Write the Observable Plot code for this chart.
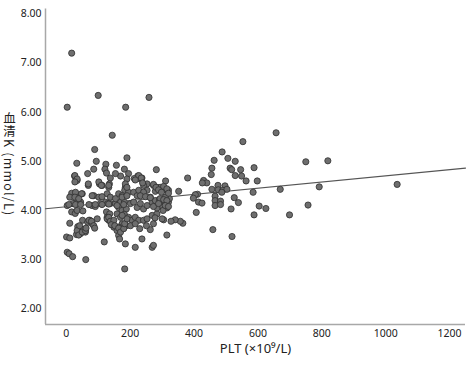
<!DOCTYPE html>
<html>
<head>
<meta charset="utf-8">
<script src="https://cdn.jsdelivr.net/npm/d3@7"></script>
<script src="https://cdn.jsdelivr.net/npm/@observablehq/plot@0.6"></script>
<style>
  html, body { margin: 0; padding: 0; background: #fff; }
  #wrap { position: relative; width: 475px; height: 366px; font-family: "Noto Sans", "Noto Sans CJK SC", sans-serif; }
  #ylab { position: absolute; left: 1px; top: 164px; transform: translateY(-50%); writing-mode: vertical-rl; font-size: 12.5px; letter-spacing: 1.2px; color: #222; font-family: "Noto Sans CJK SC", "Noto Sans", sans-serif; white-space: nowrap; line-height: 16px; }
</style>
</head>
<body>
<div id="wrap"><div id="ylab">血清K (mmol/L)</div></div>
<script>
// PLT (×10^9/L)
const plt = [
17,3,100,186,259,144,89,94,33,124,157,190,86,121,126,182,195,282,26,32,138,170,224,213,237,
67,69,34,17,11,50,30,32,3,21,45,17,28,34,52,11,51,36,50,60,45,32,67,74,81,1,11,3,9,20,61,
86,81,91,107,104,112,97,119,135,133,128,123,130,138,126,136,128,133,144,149,159,164,167,185,183,216,237,263,269,273,
154,190,232,185,183,164,175,195,211,222,237,253,273,284,253,242,
154,170,182,164,175,188,201,211,222,232,242,253,269,279,
159,170,182,195,206,216,227,242,253,269,284,175,188,201,216,230,251,164,273,
657,553,488,463,506,529,456,454,513,518,546,588,529,549,563,598,750,819,430,440,426,475,497,456,476,490,503,487,585,670,792,
411,466,466,466,483,483,526,539,414,425,516,604,625,588,699,757,407,459,519,404,1036,
311,380,352,398,315,365,357,341,328,305,278,315,320,323,300,303,284,292,305,310,320,305,279,294,263,273,300,
34,39,50,60,62,71,79,86,89,42,128,133,138,149,141,152,164,170,180,183,190,175,
27,34,27,69,102,110,133,185,190,29,48,27,39,81,102,112,138,154,175,190,8,29,45,71,91,112,133,159,180,
227,235,216,239,273,281,289,305,315,298,320,227,242,232,248,263,294,305,315,289,310,320
];
// 血清K (mmol/L)
const potassium = [
7.20,6.10,6.34,6.10,6.30,5.53,5.24,5.00,4.96,4.94,4.92,5.07,4.84,4.84,4.76,4.84,4.75,4.83,4.70,4.63,4.66,4.70,4.70,4.65,4.66,
4.75,4.51,4.61,4.35,4.27,4.34,4.33,4.22,4.10,4.14,4.17,3.97,3.94,4.00,3.99,3.74,3.80,3.67,3.61,3.56,3.53,3.51,3.76,3.80,3.73,3.46,3.44,3.15,3.12,3.06,3.00,
4.30,4.10,4.08,4.14,4.54,4.51,3.83,3.36,4.54,4.47,4.34,4.17,4.14,4.14,3.97,3.93,3.86,3.80,3.73,3.66,3.59,3.49,3.42,3.32,2.81,3.25,3.42,3.61,3.25,3.29,
4.75,4.64,4.64,4.47,4.41,4.34,4.30,4.37,4.37,4.30,4.34,4.41,4.51,4.47,4.54,4.51,
4.14,4.17,4.17,4.06,4.00,4.03,4.14,4.17,4.06,4.14,4.03,4.10,4.17,4.20,
3.93,3.86,3.92,3.86,3.80,3.86,3.80,3.80,3.83,3.90,3.93,3.73,3.69,3.69,3.73,3.63,3.69,3.66,3.73,
5.58,5.40,5.19,5.02,5.06,5.00,4.86,4.73,4.86,4.83,4.83,4.87,4.71,4.70,4.60,4.60,4.99,5.01,4.61,4.56,4.56,4.51,4.50,4.43,4.42,4.41,4.43,4.37,4.37,4.43,4.48,
4.33,4.29,4.20,4.10,4.19,4.12,4.26,4.16,4.17,4.15,4.03,4.09,4.04,3.91,3.91,4.11,3.96,3.61,3.47,4.32,4.53,
4.60,4.66,4.39,4.25,3.50,3.74,3.78,3.81,3.78,3.81,3.85,4.05,4.17,4.24,4.08,4.00,4.05,4.22,4.20,4.27,4.41,4.42,4.39,4.47,4.27,4.08,3.83,
3.59,3.50,3.56,3.59,3.64,3.80,3.78,3.69,3.64,3.69,3.83,3.86,3.78,3.80,3.71,3.69,3.64,3.56,3.63,3.73,3.83,3.90,
4.71,4.64,4.58,4.54,4.58,4.51,4.51,4.54,4.47,4.37,4.34,4.27,4.24,4.30,4.27,4.28,4.27,4.24,4.27,4.30,4.12,4.12,4.12,4.12,4.12,4.12,4.13,4.10,4.12,
4.71,4.66,4.62,4.56,4.53,4.47,4.42,4.49,4.44,4.37,4.35,4.41,4.37,4.30,4.28,4.26,4.24,4.22,4.20,4.14,4.10,4.08
];
const xTicks = [0, 200, 400, 600, 800, 1000, 1200];
const yTicks = [2, 3, 4, 5, 6, 7, 8];
const xDomain = [-65, 1250];
const yDomain = [1.68, 8.1];

const n = Math.min(plt.length, potassium.length);
const pts = d3.range(n).map(i => ({x: plt[i], y: potassium[i]}));

// ordinary least squares fit, drawn across the full x axis as in the reference
const mx = d3.mean(pts, d => d.x), my = d3.mean(pts, d => d.y);
const slope = d3.sum(pts, d => (d.x - mx) * (d.y - my)) / d3.sum(pts, d => (d.x - mx) ** 2);
const intercept = my - slope * mx;
const fit = xDomain.map(x => ({x, y: intercept + slope * x}));

const chart = Plot.plot({
  width: 475,
  height: 366,
  marginLeft: 45,
  marginRight: 10,
  marginTop: 8.4,
  marginBottom: 42,
  style: {fontFamily: "'Noto Sans', sans-serif", fontSize: "10px", color: "#222", background: "#fff"},
  x: {domain: xDomain, label: null},
  y: {domain: yDomain, label: null},
  marks: [
    Plot.ruleX([xDomain[0]], {stroke: "#a8a8a8", strokeWidth: 1.5}),
    Plot.ruleY([yDomain[0]], {stroke: "#a8a8a8", strokeWidth: 1.5}),
    Plot.axisX({ticks: xTicks, tickSize: 0, tickPadding: 5, tickFormat: d3.format("d"), label: null, fontSize: 10.5}),
    Plot.axisY({ticks: yTicks, tickSize: 0, tickPadding: 4, tickFormat: d3.format(".2f"), label: null, fontSize: 10.5}),
    Plot.line(fit, {x: "x", y: "y", stroke: "#555", strokeWidth: 1.1}),
    Plot.dot(pts, {x: "x", y: "y", r: 3.1, fill: "#6e6e6e", stroke: "#2e2e2e", strokeWidth: 0.8}),
    Plot.text(["PLT (×10⁹/L)"], {frameAnchor: "bottom", dy: 28, fontSize: 13, fill: "#222"})
  ]
});
document.getElementById("wrap").appendChild(chart);
</script>
</body>
</html>
